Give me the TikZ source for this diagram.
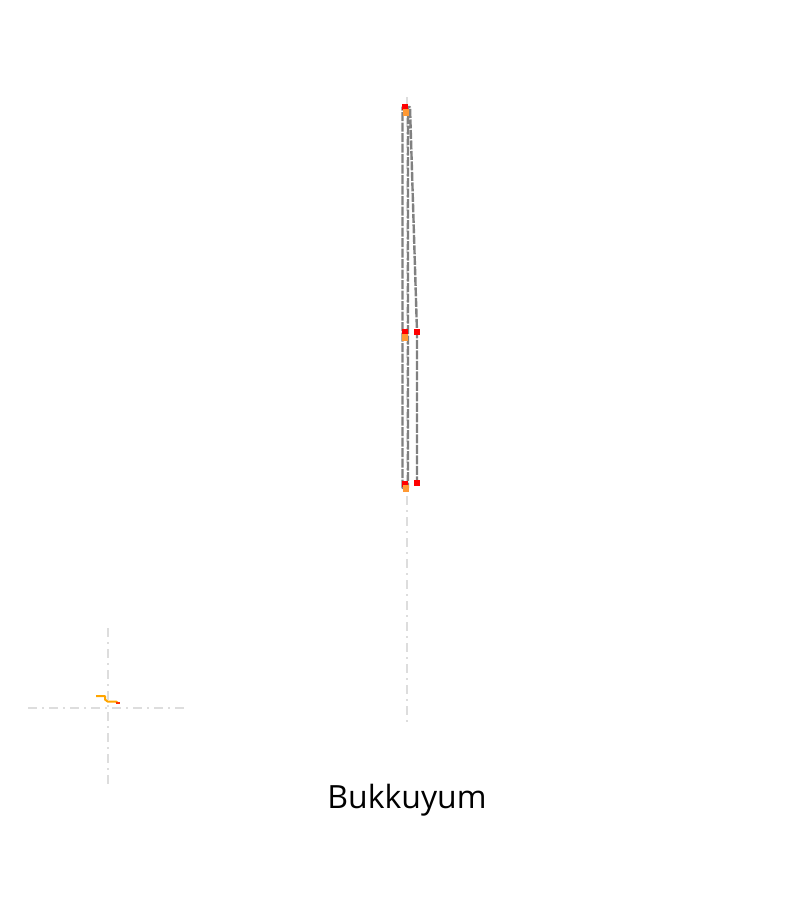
\documentclass[tikz,border=0pt]{standalone}
\usepackage{fontspec}
\newfontfamily\titlefont{Open Sans}
\definecolor{axisgray}{HTML}{DDDDDD}
\definecolor{edgegray}{HTML}{808080}
\definecolor{markred}{HTML}{FF0000}
\definecolor{markorange}{HTML}{FF9933}
\definecolor{trackorange}{HTML}{FFA500}

\begin{document}
\begin{tikzpicture}[x=1pt,y=-1pt,
 axisline/.style={draw=axisgray,line width=2pt,dash pattern=on 9pt off 5pt on 2pt off 5pt},
 outline/.style={draw=edgegray,line width=2.4pt,dash pattern=on 9pt off 1.5pt,line join=round},
 redmark/.style={fill=markred,inner sep=0pt,minimum size=6pt},
 orangemark/.style={fill=markorange,inner sep=0pt,minimum width=6pt,minimum height=7pt},
 track/.style={draw=trackorange,line width=2pt,line join=round}]
\useasboundingbox (0,0) rectangle (800,900);
\coordinate (top) at (407,97);
\coordinate (foot) at (407,722);
\coordinate (crossW) at (28,708);
\coordinate (crossE) at (188,708);
\coordinate (crossN) at (108,628);
\coordinate (crossS) at (108,788);
\path[axisline] (top) -- (foot);
\path[axisline] (crossW) -- (crossE);
\path[axisline] (crossN) -- (crossS);
\coordinate (p1) at (402.5,107);
\coordinate (p2) at (402.5,488);
\coordinate (p3) at (408,488);
\coordinate (p4) at (408,107);
\coordinate (q1) at (410,107);
\coordinate (q2) at (417,332);
\coordinate (q3) at (417,484);
\path[outline] (p4) -- (p1) -- (p2) -- (p3) -- (p4) -- (q1) -- (q2) -- (q3);
\node[redmark] (r1) at (405,107) {};
\node[redmark] (r2) at (405,332) {};
\node[redmark] (r3) at (417,332) {};
\node[redmark] (r4) at (405,484) {};
\node[redmark] (r5) at (417,483) {};
\node[orangemark] (o1) at (406,112) {};
\node[orangemark] (o2) at (405,337) {};
\node[orangemark] (o3) at (406,488) {};
\path[track] (96,696) -- (105,696) -- (105,699.5) -- (107.5,701.5) -- (116,701.5) -- (118,703);
\path[draw=markred!70!trackorange,line width=2pt] (116,703) -- (120,703);
\node (title) at (407,800) {\titlefont\fontsize{32}{38}\selectfont Bukkuyum};
\end{tikzpicture}
\end{document}
